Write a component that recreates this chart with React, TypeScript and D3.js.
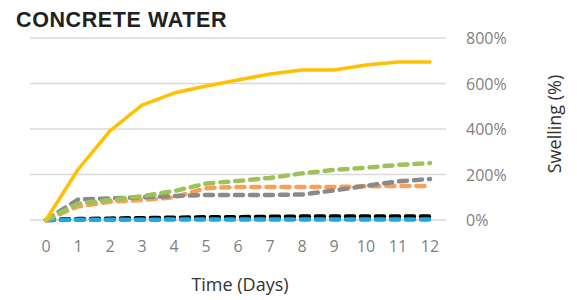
import React, { useEffect, useRef } from "react";
import * as d3 from "d3";

const days = [0, 1, 2, 3, 4, 5, 6, 7, 8, 9, 10, 11, 12];
const yTicks = [0, 200, 400, 600, 800];

const yellowSeries = [0, 222, 392, 505, 558, 589, 615, 642, 659, 659, 681, 695, 695];
const greenSeries = [0, 72, 88, 105, 127, 160, 172, 185, 205, 220, 230, 242, 250];
const orangeSeries = [0, 60, 80, 88, 100, 140, 145, 145, 145, 145, 148, 150, 150];
const graySeries = [0, 90, 95, 100, 105, 110, 110, 110, 112, 130, 150, 170, 180];
const blackSeries = [0, 4, 6, 8, 10, 12, 12, 14, 15, 15, 15, 15, 15];
const blueSeries = [0, 1, 1, 1, 2, 2, 2, 2, 2, 2, 2, 2, 2];

const series = [
  { name: "black", values: blackSeries, color: "#000000", dashed: true },
  { name: "blue", values: blueSeries, color: "#1fa8e0", dashed: true },
  { name: "orange", values: orangeSeries, color: "#f7a05a", dashed: true },
  { name: "gray", values: graySeries, color: "#8a8a8a", dashed: true },
  { name: "green", values: greenSeries, color: "#9bc35a", dashed: true },
  { name: "yellow", values: yellowSeries, color: "#ffc000", dashed: false },
];

export default function App() {
  const ref = useRef<SVGSVGElement>(null);

  useEffect(() => {
    const svg = d3.select(ref.current);
    svg.selectAll("*").remove();

    const left = 30, right = 446, top = 38, bottom = 220;

    const x = d3.scaleBand<number>().domain(days).range([left, right]);
    const y = d3.scaleLinear().domain([0, 800]).range([bottom, top]);
    const cx = (d: number) => (x(d) as number) + x.bandwidth() / 2;

    // Title
    svg.append("text")
      .attr("x", 16).attr("y", 27)
      .attr("font-family", "Liberation Sans, Arial, sans-serif")
      .attr("font-weight", "bold")
      .attr("font-size", 21.5)
      .attr("letter-spacing", 0.6)
      .attr("fill", "#231f20")
      .text("CONCRETE WATER");

    // Gridlines
    svg.append("g").selectAll("line")
      .data(yTicks)
      .join("line")
      .attr("x1", left).attr("x2", right)
      .attr("y1", d => y(d)).attr("y2", d => y(d))
      .attr("stroke", "#d9d9d9")
      .attr("stroke-width", 1.3);

    // Right axis labels
    svg.append("g").selectAll("text")
      .data(yTicks)
      .join("text")
      .attr("x", 466)
      .attr("y", d => y(d) + 6)
      .attr("font-family", "Open Sans, sans-serif")
      .attr("font-size", 16)
      .attr("fill", "#7f7f7f")
      .text(d => d + "%");

    // X axis labels
    svg.append("g").selectAll("text")
      .data(days)
      .join("text")
      .attr("x", d => cx(d))
      .attr("y", 252)
      .attr("text-anchor", "middle")
      .attr("font-family", "Open Sans, sans-serif")
      .attr("font-size", 16)
      .attr("fill", "#7f7f7f")
      .text(d => d);

    // Axis titles
    svg.append("text")
      .attr("x", 240).attr("y", 291)
      .attr("text-anchor", "middle")
      .attr("font-family", "Open Sans, sans-serif")
      .attr("font-size", 18)
      .attr("fill", "#333")
      .text("Time (Days)");

    svg.append("text")
      .attr("transform", "translate(556, 124) rotate(-90)")
      .attr("text-anchor", "middle")
      .attr("dominant-baseline", "middle")
      .attr("font-family", "Open Sans, sans-serif")
      .attr("font-size", 18)
      .attr("fill", "#333")
      .text("Swelling (%)");

    const line = d3.line<number>()
      .x((_, i) => cx(days[i]))
      .y(d => y(d));

    svg.append("g").selectAll("path")
      .data(series)
      .join("path")
      .attr("d", s => line(s.values))
      .attr("fill", "none")
      .attr("stroke", s => s.color)
      .attr("stroke-width", s => (s.dashed ? 4.5 : 3.5))
      .attr("stroke-dasharray", s => (s.dashed ? "8,7" : null))
      .attr("stroke-linecap", "round")
      .attr("stroke-linejoin", "round");
  }, []);

  return <svg ref={ref} width={577} height={300} style={{ display: "block", position: "absolute", left: 0, top: 0 }} />;
}
